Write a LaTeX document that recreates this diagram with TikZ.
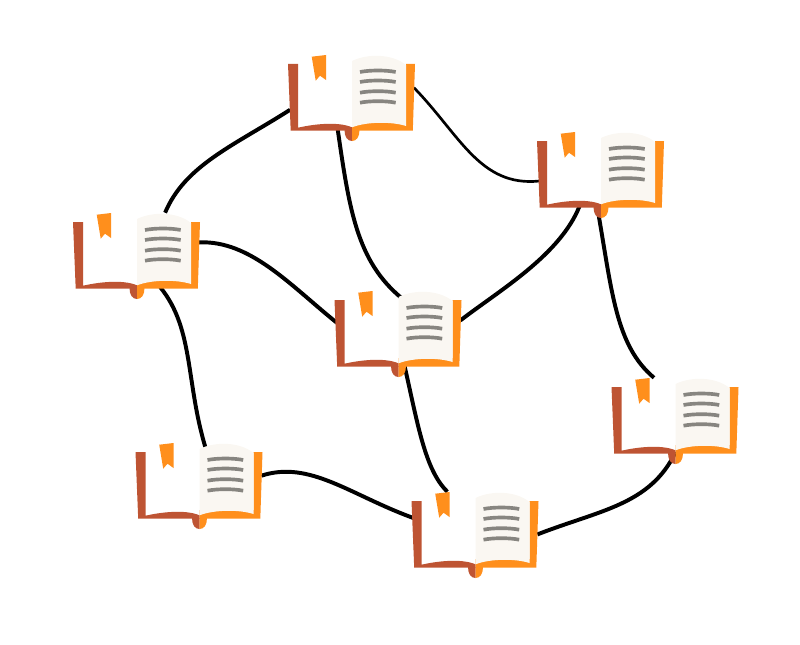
\documentclass[tikz,border=0pt]{standalone}
\usetikzlibrary{backgrounds}

\definecolor{coverleft}{HTML}{BE5433}
\definecolor{coverright}{HTML}{FF8F1C}
\definecolor{pagepaper}{HTML}{FAF7F2}
\definecolor{textline}{HTML}{878580}

\tikzset{
	book/.pic={
		% outline of the open book, hides the ends of the links
		\fill[white] (-54,-28) -- (0,-28) -- (0,36) -- (-54,36) -- cycle;
		\fill[coverleft] (-64,-28) -- (-54,-28) -- (-54,35.7) .. controls (-40,32.5) and (-15,29) .. (0,35.3) -- (0,38.7) -- (-7.5,38.7) -- (-61.3,38.7) -- cycle;
		\fill[coverright] (54,-28) -- (63,-28) -- (60.8,38.7) -- (7.5,38.7) -- (0,38.7) -- (0,30) -- (54,30) -- cycle;
		\fill[coverleft] (-7.5,38) .. controls (-7.5,45) and (-4.5,49) .. (0,49) -- (0,38) -- cycle;
		\fill[coverright] (7.5,38) .. controls (7.5,45) and (4.5,49) .. (0,49) -- (0,38) -- cycle;
		\fill[pagepaper] (0,-31) .. controls (15,-38.5) and (40,-38.5) .. (54,-27) -- (54,34) .. controls (40,29.5) and (15,29.5) .. (0,35.3) -- cycle;
		\fill[coverright] (-40.3,-35.3) -- (-26,-37) -- (-26,-12) -- (-32,-16.3) -- (-36.3,-11.3) -- cycle;
		\foreach \ly in {-21,-11,-0.3,9.7}
			\draw[textline,line width=2.6pt] (8,\ly+1) .. controls (18,\ly-1) and (34,\ly-1) .. (43.7,\ly+1);
		\node[minimum width=3.08cm,minimum height=1.85cm,inner sep=0pt] (-box) at (0,0) {};
		\coordinate (-pg) at (8,-26);
	}
}

\begin{document}
\begin{tikzpicture}[x=.025cm,y=-.025cm,
		link/.style={draw=black,line width=2.8pt},
		thin link/.style={draw=black,line width=1.9pt}]
		\useasboundingbox (0,0) rectangle (800,644);
		% books
		\pic (bookA) at (352,92) {book};
		\pic (bookB) at (601,169) {book};
		\pic (bookC) at (137,250) {book};
		\pic (bookD) at (398.5,328) {book};
		\pic (bookE) at (675.5,415) {book};
		\pic (bookF) at (199.5,480) {book};
		\pic (bookG) at (475.5,529) {book};
		% links
		\begin{scope}[on background layer]
		\path[link] (bookA-box.196) .. controls (235,145) and (185,165) .. (bookC-box.53);
		\path[link] (bookA-box.249) .. controls (350,215) and (358,265) .. (bookD-pg);
		\path[thin link] (bookA-box.4) .. controls (460,135) and (480,187) .. (bookB-box.191);
		\path[link] (bookB-box.240) .. controls (560,255) and (500,290) .. (bookD-box.7);
		\path[link] (bookB-box.264) .. controls (612,290) and (615,345) .. (bookE-box.120);
		\path[link] (bookC-box.7) .. controls (250,240) and (290,285) .. (bookD-box.175);
		\path[link] (bookC-box.302) .. controls (195,330) and (185,385) .. (bookF-pg);
		\path[link] (bookF-box.4) .. controls (310,460) and (350,495) .. (bookG-box.170);
		\path[link] (bookD-box.279) .. controls (418,425) and (425,470) .. (bookG-box.127);
		\path[link] (bookG-box.355) .. controls (600,510) and (650,505) .. (bookE-box.south);
		\end{scope}
\end{tikzpicture}
\end{document}
